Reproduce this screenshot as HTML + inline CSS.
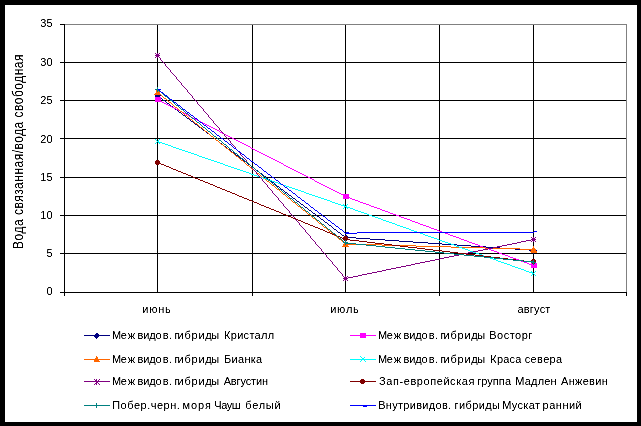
<!DOCTYPE html>
<html><head><meta charset="utf-8"><title>chart</title>
<style>
html,body{margin:0;padding:0;background:#000;}
body{width:641px;height:426px;overflow:hidden;position:relative;font-family:"Liberation Sans",sans-serif;}
svg{position:absolute;left:0;top:0;display:block}
text{font-family:"Liberation Sans",sans-serif;fill:#000}
</style></head><body>
<svg width="641" height="426" viewBox="0 0 641 426">
<rect x="0" y="0" width="641" height="426" fill="#000"/>
<rect x="5" y="5" width="632" height="417" fill="#fff"/>
<g shape-rendering="crispEdges">
<path d="M60,253.5H627M60,215.5H627M60,177.5H627M60,138.5H627M60,100.5H627M60,62.5H627M157.5,24V292M252.5,24V292M345.5,24V292M439.5,24V292M533.5,24V292" stroke="#000" stroke-width="1" fill="none"/>
<path d="M64,24.5H627M626.5,24V292" stroke="#808080" stroke-width="1" fill="none"/>
<path d="M60,24.5H64M64.5,24V296M60,292.5H627M252.5,292V296M439.5,292V296M626.5,292V296" stroke="#000" stroke-width="1" fill="none"/>
<path d="M157,95h1v1h-1zM158,96h1v1h-1zM159,97h2v1h-2zM161,98h1v1h-1zM162,99h1v1h-1zM163,100h2v1h-2zM165,101h1v1h-1zM166,102h1v1h-1zM167,103h2v1h-2zM169,104h1v1h-1zM170,105h1v1h-1zM171,106h2v1h-2zM173,107h1v1h-1zM174,108h1v1h-1zM175,109h2v1h-2zM177,110h1v1h-1zM178,111h1v1h-1zM179,112h2v1h-2zM181,113h1v1h-1zM182,114h1v1h-1zM183,115h2v1h-2zM185,116h1v1h-1zM186,117h1v1h-1zM187,118h2v1h-2zM189,119h1v1h-1zM190,120h1v1h-1zM191,121h2v1h-2zM193,122h1v1h-1zM194,123h1v1h-1zM195,124h2v1h-2zM197,125h1v1h-1zM198,126h1v1h-1zM199,127h2v1h-2zM201,128h1v1h-1zM202,129h1v1h-1zM203,130h2v1h-2zM205,131h1v1h-1zM206,132h1v1h-1zM207,133h2v1h-2zM209,134h1v1h-1zM210,135h1v1h-1zM211,136h2v1h-2zM213,137h1v1h-1zM214,138h1v1h-1zM215,139h1v1h-1zM216,140h2v1h-2zM218,141h1v1h-1zM219,142h1v1h-1zM220,143h2v1h-2zM222,144h1v1h-1zM223,145h1v1h-1zM224,146h2v1h-2zM226,147h1v1h-1zM227,148h1v1h-1zM228,149h2v1h-2zM230,150h1v1h-1zM231,151h1v1h-1zM232,152h2v1h-2zM234,153h1v1h-1zM235,154h1v1h-1zM236,155h2v1h-2zM238,156h1v1h-1zM239,157h1v1h-1zM240,158h2v1h-2zM242,159h1v1h-1zM243,160h1v1h-1zM244,161h2v1h-2zM246,162h1v1h-1zM247,163h1v1h-1zM248,164h2v1h-2zM250,165h1v1h-1zM251,166h1v1h-1zM252,167h2v1h-2zM254,168h1v1h-1zM255,169h1v1h-1zM256,170h2v1h-2zM258,171h1v1h-1zM259,172h1v1h-1zM260,173h2v1h-2zM262,174h1v1h-1zM263,175h1v1h-1zM264,176h2v1h-2zM266,177h1v1h-1zM267,178h1v1h-1zM268,179h2v1h-2zM270,180h1v1h-1zM271,181h1v1h-1zM272,182h2v1h-2zM274,183h1v1h-1zM275,184h1v1h-1zM276,185h1v1h-1zM277,186h2v1h-2zM279,187h1v1h-1zM280,188h1v1h-1zM281,189h2v1h-2zM283,190h1v1h-1zM284,191h1v1h-1zM285,192h2v1h-2zM287,193h1v1h-1zM288,194h1v1h-1zM289,195h2v1h-2zM291,196h1v1h-1zM292,197h1v1h-1zM293,198h2v1h-2zM295,199h1v1h-1zM296,200h1v1h-1zM297,201h2v1h-2zM299,202h1v1h-1zM300,203h1v1h-1zM301,204h2v1h-2zM303,205h1v1h-1zM304,206h1v1h-1zM305,207h2v1h-2zM307,208h1v1h-1zM308,209h1v1h-1zM309,210h2v1h-2zM311,211h1v1h-1zM312,212h1v1h-1zM313,213h2v1h-2zM315,214h1v1h-1zM316,215h1v1h-1zM317,216h2v1h-2zM319,217h1v1h-1zM320,218h1v1h-1zM321,219h2v1h-2zM323,220h1v1h-1zM324,221h1v1h-1zM325,222h2v1h-2zM327,223h1v1h-1zM328,224h1v1h-1zM329,225h2v1h-2zM331,226h1v1h-1zM332,227h1v1h-1zM333,228h1v1h-1zM334,229h2v1h-2zM336,230h1v1h-1zM337,231h1v1h-1zM338,232h2v1h-2zM340,233h1v1h-1zM341,234h1v1h-1zM342,235h2v1h-2zM344,236h1v1h-1zM345,237h1v1h-1zM345,237h11v1h-11zM356,238h14v1h-14zM370,239h15v1h-15zM385,240h14v1h-14zM399,241h14v1h-14zM413,242h15v1h-15zM428,243h14v1h-14zM442,244h15v1h-15zM457,245h14v1h-14zM471,246h15v1h-15zM486,247h14v1h-14zM500,248h15v1h-15zM515,249h14v1h-14zM529,250h5v1h-5z" fill="#000080"/>
<path d="M157,93h2v1h-2zM156,94h4v1h-4zM155,95h6v1h-6zM155,96h5v1h-5zM156,97h3v1h-3zM157,98h1v1h-1z" fill="#000080"/>
<path d="M345,235h2v1h-2zM344,236h4v1h-4zM343,237h6v1h-6zM343,238h5v1h-5zM344,239h3v1h-3zM345,240h1v1h-1z" fill="#000080"/>
<path d="M533,248h2v1h-2zM532,249h4v1h-4zM531,250h6v1h-6zM531,251h5v1h-5zM532,252h3v1h-3zM533,253h1v1h-1z" fill="#000080"/>
<path d="M157,99h1v1h-1zM158,100h2v1h-2zM160,101h2v1h-2zM162,102h2v1h-2zM164,103h2v1h-2zM166,104h2v1h-2zM168,105h2v1h-2zM170,106h2v1h-2zM172,107h2v1h-2zM174,108h2v1h-2zM176,109h2v1h-2zM178,110h2v1h-2zM180,111h2v1h-2zM182,112h2v1h-2zM184,113h2v1h-2zM186,114h2v1h-2zM188,115h1v1h-1zM189,116h2v1h-2zM191,117h2v1h-2zM193,118h2v1h-2zM195,119h2v1h-2zM197,120h2v1h-2zM199,121h2v1h-2zM201,122h2v1h-2zM203,123h2v1h-2zM205,124h2v1h-2zM207,125h2v1h-2zM209,126h2v1h-2zM211,127h2v1h-2zM213,128h2v1h-2zM215,129h2v1h-2zM217,130h2v1h-2zM219,131h1v1h-1zM220,132h2v1h-2zM222,133h2v1h-2zM224,134h2v1h-2zM226,135h2v1h-2zM228,136h2v1h-2zM230,137h2v1h-2zM232,138h2v1h-2zM234,139h2v1h-2zM236,140h2v1h-2zM238,141h2v1h-2zM240,142h2v1h-2zM242,143h2v1h-2zM244,144h2v1h-2zM246,145h2v1h-2zM248,146h2v1h-2zM250,147h1v1h-1zM251,148h2v1h-2zM253,149h2v1h-2zM255,150h2v1h-2zM257,151h2v1h-2zM259,152h2v1h-2zM261,153h2v1h-2zM263,154h2v1h-2zM265,155h2v1h-2zM267,156h2v1h-2zM269,157h2v1h-2zM271,158h2v1h-2zM273,159h2v1h-2zM275,160h2v1h-2zM277,161h2v1h-2zM279,162h2v1h-2zM281,163h2v1h-2zM283,164h1v1h-1zM284,165h2v1h-2zM286,166h2v1h-2zM288,167h2v1h-2zM290,168h2v1h-2zM292,169h2v1h-2zM294,170h2v1h-2zM296,171h2v1h-2zM298,172h2v1h-2zM300,173h2v1h-2zM302,174h2v1h-2zM304,175h2v1h-2zM306,176h2v1h-2zM308,177h2v1h-2zM310,178h2v1h-2zM312,179h2v1h-2zM314,180h1v1h-1zM315,181h2v1h-2zM317,182h2v1h-2zM319,183h2v1h-2zM321,184h2v1h-2zM323,185h2v1h-2zM325,186h2v1h-2zM327,187h2v1h-2zM329,188h2v1h-2zM331,189h2v1h-2zM333,190h2v1h-2zM335,191h2v1h-2zM337,192h2v1h-2zM339,193h2v1h-2zM341,194h2v1h-2zM343,195h2v1h-2zM345,196h1v1h-1zM345,196h2v1h-2zM347,197h3v1h-3zM350,198h2v1h-2zM352,199h3v1h-3zM355,200h3v1h-3zM358,201h2v1h-2zM360,202h3v1h-3zM363,203h3v1h-3zM366,204h3v1h-3zM369,205h2v1h-2zM371,206h3v1h-3zM374,207h3v1h-3zM377,208h3v1h-3zM380,209h2v1h-2zM382,210h3v1h-3zM385,211h3v1h-3zM388,212h2v1h-2zM390,213h3v1h-3zM393,214h3v1h-3zM396,215h3v1h-3zM399,216h2v1h-2zM401,217h3v1h-3zM404,218h3v1h-3zM407,219h3v1h-3zM410,220h2v1h-2zM412,221h3v1h-3zM415,222h3v1h-3zM418,223h2v1h-2zM420,224h3v1h-3zM423,225h3v1h-3zM426,226h3v1h-3zM429,227h2v1h-2zM431,228h3v1h-3zM434,229h3v1h-3zM437,230h2v1h-2zM439,231h3v1h-3zM442,232h3v1h-3zM445,233h3v1h-3zM448,234h2v1h-2zM450,235h3v1h-3zM453,236h3v1h-3zM456,237h3v1h-3zM459,238h2v1h-2zM461,239h3v1h-3zM464,240h3v1h-3zM467,241h2v1h-2zM469,242h3v1h-3zM472,243h3v1h-3zM475,244h3v1h-3zM478,245h2v1h-2zM480,246h3v1h-3zM483,247h3v1h-3zM486,248h3v1h-3zM489,249h2v1h-2zM491,250h3v1h-3zM494,251h3v1h-3zM497,252h2v1h-2zM499,253h3v1h-3zM502,254h3v1h-3zM505,255h3v1h-3zM508,256h2v1h-2zM510,257h3v1h-3zM513,258h3v1h-3zM516,259h3v1h-3zM519,260h2v1h-2zM521,261h3v1h-3zM524,262h3v1h-3zM527,263h2v1h-2zM529,264h3v1h-3zM532,265h2v1h-2z" fill="#FF00FF"/>
<path d="M155,97h6v1h-6zM155,98h6v1h-6zM155,99h6v1h-6zM155,100h6v1h-6zM155,101h6v1h-6z" fill="#FF00FF"/>
<path d="M343,194h6v1h-6zM343,195h6v1h-6zM343,196h6v1h-6zM343,197h6v1h-6zM343,198h6v1h-6z" fill="#FF00FF"/>
<path d="M531,263h6v1h-6zM531,264h6v1h-6zM531,265h6v1h-6zM531,266h6v1h-6zM531,267h6v1h-6z" fill="#FF00FF"/>
<path d="M157,92h1v1h-1zM158,93h1v1h-1zM159,94h2v1h-2zM161,95h1v1h-1zM162,96h1v1h-1zM163,97h1v1h-1zM164,98h2v1h-2zM166,99h1v1h-1zM167,100h1v1h-1zM168,101h1v1h-1zM169,102h2v1h-2zM171,103h1v1h-1zM172,104h1v1h-1zM173,105h1v1h-1zM174,106h1v1h-1zM175,107h2v1h-2zM177,108h1v1h-1zM178,109h1v1h-1zM179,110h1v1h-1zM180,111h2v1h-2zM182,112h1v1h-1zM183,113h1v1h-1zM184,114h1v1h-1zM185,115h2v1h-2zM187,116h1v1h-1zM188,117h1v1h-1zM189,118h1v1h-1zM190,119h2v1h-2zM192,120h1v1h-1zM193,121h1v1h-1zM194,122h1v1h-1zM195,123h2v1h-2zM197,124h1v1h-1zM198,125h1v1h-1zM199,126h1v1h-1zM200,127h2v1h-2zM202,128h1v1h-1zM203,129h1v1h-1zM204,130h1v1h-1zM205,131h2v1h-2zM207,132h1v1h-1zM208,133h1v1h-1zM209,134h1v1h-1zM210,135h1v1h-1zM211,136h2v1h-2zM213,137h1v1h-1zM214,138h1v1h-1zM215,139h1v1h-1zM216,140h2v1h-2zM218,141h1v1h-1zM219,142h1v1h-1zM220,143h1v1h-1zM221,144h2v1h-2zM223,145h1v1h-1zM224,146h1v1h-1zM225,147h1v1h-1zM226,148h2v1h-2zM228,149h1v1h-1zM229,150h1v1h-1zM230,151h1v1h-1zM231,152h2v1h-2zM233,153h1v1h-1zM234,154h1v1h-1zM235,155h1v1h-1zM236,156h2v1h-2zM238,157h1v1h-1zM239,158h1v1h-1zM240,159h1v1h-1zM241,160h2v1h-2zM243,161h1v1h-1zM244,162h1v1h-1zM245,163h1v1h-1zM246,164h1v1h-1zM247,165h2v1h-2zM249,166h1v1h-1zM250,167h1v1h-1zM251,168h1v1h-1zM252,169h2v1h-2zM254,170h1v1h-1zM255,171h1v1h-1zM256,172h1v1h-1zM257,173h2v1h-2zM259,174h1v1h-1zM260,175h1v1h-1zM261,176h1v1h-1zM262,177h2v1h-2zM264,178h1v1h-1zM265,179h1v1h-1zM266,180h1v1h-1zM267,181h2v1h-2zM269,182h1v1h-1zM270,183h1v1h-1zM271,184h1v1h-1zM272,185h2v1h-2zM274,186h1v1h-1zM275,187h1v1h-1zM276,188h1v1h-1zM277,189h2v1h-2zM279,190h1v1h-1zM280,191h1v1h-1zM281,192h1v1h-1zM282,193h1v1h-1zM283,194h2v1h-2zM285,195h1v1h-1zM286,196h1v1h-1zM287,197h1v1h-1zM288,198h2v1h-2zM290,199h1v1h-1zM291,200h1v1h-1zM292,201h1v1h-1zM293,202h2v1h-2zM295,203h1v1h-1zM296,204h1v1h-1zM297,205h1v1h-1zM298,206h2v1h-2zM300,207h1v1h-1zM301,208h1v1h-1zM302,209h1v1h-1zM303,210h2v1h-2zM305,211h1v1h-1zM306,212h1v1h-1zM307,213h1v1h-1zM308,214h2v1h-2zM310,215h1v1h-1zM311,216h1v1h-1zM312,217h1v1h-1zM313,218h2v1h-2zM315,219h1v1h-1zM316,220h1v1h-1zM317,221h1v1h-1zM318,222h1v1h-1zM319,223h2v1h-2zM321,224h1v1h-1zM322,225h1v1h-1zM323,226h1v1h-1zM324,227h2v1h-2zM326,228h1v1h-1zM327,229h1v1h-1zM328,230h1v1h-1zM329,231h2v1h-2zM331,232h1v1h-1zM332,233h1v1h-1zM333,234h1v1h-1zM334,235h2v1h-2zM336,236h1v1h-1zM337,237h1v1h-1zM338,238h1v1h-1zM339,239h2v1h-2zM341,240h1v1h-1zM342,241h1v1h-1zM343,242h1v1h-1zM344,243h2v1h-2zM345,243h2v1h-2zM347,244h35v1h-35zM382,245h34v1h-34zM416,246h35v1h-35zM451,247h34v1h-34zM485,248h35v1h-35zM520,249h14v1h-14z" fill="#FF6600"/>
<path d="M157,89h1v1h-1zM156,90h3v1h-3zM156,91h3v1h-3zM156,92h4v1h-4zM155,93h5v1h-5zM154,94h7v1h-7z" fill="#FF6600"/>
<path d="M345,241h1v1h-1zM345,242h1v1h-1zM344,243h3v1h-3zM343,244h5v1h-5zM343,245h5v1h-5zM342,246h7v1h-7z" fill="#FF6600"/>
<path d="M533,246h1v1h-1zM533,247h1v1h-1zM532,248h3v1h-3zM531,249h5v1h-5zM531,250h5v1h-5zM530,251h7v1h-7zM531,252h6v1h-6z" fill="#FF6600"/>
<path d="M157,141h2v1h-2zM159,142h3v1h-3zM162,143h3v1h-3zM165,144h3v1h-3zM168,145h3v1h-3zM171,146h2v1h-2zM173,147h3v1h-3zM176,148h3v1h-3zM179,149h3v1h-3zM182,150h3v1h-3zM185,151h3v1h-3zM188,152h3v1h-3zM191,153h3v1h-3zM194,154h3v1h-3zM197,155h2v1h-2zM199,156h3v1h-3zM202,157h3v1h-3zM205,158h3v1h-3zM208,159h3v1h-3zM211,160h3v1h-3zM214,161h3v1h-3zM217,162h3v1h-3zM220,163h3v1h-3zM223,164h2v1h-2zM225,165h3v1h-3zM228,166h3v1h-3zM231,167h3v1h-3zM234,168h3v1h-3zM237,169h3v1h-3zM240,170h3v1h-3zM243,171h3v1h-3zM246,172h3v1h-3zM249,173h2v1h-2zM251,174h3v1h-3zM254,175h3v1h-3zM257,176h3v1h-3zM260,177h3v1h-3zM263,178h3v1h-3zM266,179h3v1h-3zM269,180h3v1h-3zM272,181h3v1h-3zM275,182h3v1h-3zM278,183h2v1h-2zM280,184h3v1h-3zM283,185h3v1h-3zM286,186h3v1h-3zM289,187h3v1h-3zM292,188h3v1h-3zM295,189h3v1h-3zM298,190h3v1h-3zM301,191h3v1h-3zM304,192h2v1h-2zM306,193h3v1h-3zM309,194h3v1h-3zM312,195h3v1h-3zM315,196h3v1h-3zM318,197h3v1h-3zM321,198h3v1h-3zM324,199h3v1h-3zM327,200h3v1h-3zM330,201h2v1h-2zM332,202h3v1h-3zM335,203h3v1h-3zM338,204h3v1h-3zM341,205h3v1h-3zM344,206h2v1h-2zM345,206h2v1h-2zM347,207h3v1h-3zM350,208h3v1h-3zM353,209h2v1h-2zM355,210h3v1h-3zM358,211h3v1h-3zM361,212h3v1h-3zM364,213h3v1h-3zM367,214h2v1h-2zM369,215h3v1h-3zM372,216h3v1h-3zM375,217h3v1h-3zM378,218h3v1h-3zM381,219h2v1h-2zM383,220h3v1h-3zM386,221h3v1h-3zM389,222h3v1h-3zM392,223h3v1h-3zM395,224h2v1h-2zM397,225h3v1h-3zM400,226h3v1h-3zM403,227h3v1h-3zM406,228h3v1h-3zM409,229h2v1h-2zM411,230h3v1h-3zM414,231h3v1h-3zM417,232h3v1h-3zM420,233h3v1h-3zM423,234h2v1h-2zM425,235h3v1h-3zM428,236h3v1h-3zM431,237h3v1h-3zM434,238h3v1h-3zM437,239h2v1h-2zM439,240h3v1h-3zM442,241h3v1h-3zM445,242h3v1h-3zM448,243h3v1h-3zM451,244h3v1h-3zM454,245h2v1h-2zM456,246h3v1h-3zM459,247h3v1h-3zM462,248h3v1h-3zM465,249h3v1h-3zM468,250h2v1h-2zM470,251h3v1h-3zM473,252h3v1h-3zM476,253h3v1h-3zM479,254h3v1h-3zM482,255h2v1h-2zM484,256h3v1h-3zM487,257h3v1h-3zM490,258h3v1h-3zM493,259h3v1h-3zM496,260h2v1h-2zM498,261h3v1h-3zM501,262h3v1h-3zM504,263h3v1h-3zM507,264h3v1h-3zM510,265h2v1h-2zM512,266h3v1h-3zM515,267h3v1h-3zM518,268h3v1h-3zM521,269h3v1h-3zM524,270h2v1h-2zM526,271h3v1h-3zM529,272h3v1h-3zM532,273h2v1h-2z" fill="#00FFFF"/>
<path d="M155,139h1v1h-1zM159,139h1v1h-1zM156,140h1v1h-1zM158,140h1v1h-1zM157,141h1v1h-1zM156,142h1v1h-1zM158,142h1v1h-1zM155,143h1v1h-1zM159,143h1v1h-1z" fill="#00FFFF"/>
<path d="M343,204h1v1h-1zM347,204h1v1h-1zM344,205h1v1h-1zM346,205h1v1h-1zM345,206h1v1h-1zM344,207h1v1h-1zM346,207h1v1h-1zM343,208h1v1h-1zM347,208h1v1h-1z" fill="#00FFFF"/>
<path d="M531,271h1v1h-1zM535,271h1v1h-1zM532,272h1v1h-1zM534,272h1v1h-1zM533,273h1v1h-1zM532,274h1v1h-1zM534,274h1v1h-1zM531,275h1v1h-1zM535,275h1v1h-1z" fill="#00FFFF"/>
<path d="M157,55h1v1h-1zM158,56h1v1h-1zM159,57h1v1h-1zM160,58h1v2h-1zM161,60h1v1h-1zM162,61h1v1h-1zM163,62h1v1h-1zM164,63h1v1h-1zM165,64h1v2h-1zM166,66h1v1h-1zM167,67h1v1h-1zM168,68h1v1h-1zM169,69h1v1h-1zM170,70h1v2h-1zM171,72h1v1h-1zM172,73h1v1h-1zM173,74h1v1h-1zM174,75h1v1h-1zM175,76h1v1h-1zM176,77h1v2h-1zM177,79h1v1h-1zM178,80h1v1h-1zM179,81h1v1h-1zM180,82h1v1h-1zM181,83h1v2h-1zM182,85h1v1h-1zM183,86h1v1h-1zM184,87h1v1h-1zM185,88h1v1h-1zM186,89h1v1h-1zM187,90h1v2h-1zM188,92h1v1h-1zM189,93h1v1h-1zM190,94h1v1h-1zM191,95h1v1h-1zM192,96h1v2h-1zM193,98h1v1h-1zM194,99h1v1h-1zM195,100h1v1h-1zM196,101h1v1h-1zM197,102h1v2h-1zM198,104h1v1h-1zM199,105h1v1h-1zM200,106h1v1h-1zM201,107h1v1h-1zM202,108h1v1h-1zM203,109h1v2h-1zM204,111h1v1h-1zM205,112h1v1h-1zM206,113h1v1h-1zM207,114h1v1h-1zM208,115h1v2h-1zM209,117h1v1h-1zM210,118h1v1h-1zM211,119h1v1h-1zM212,120h1v1h-1zM213,121h1v2h-1zM214,123h1v1h-1zM215,124h1v1h-1zM216,125h1v1h-1zM217,126h1v1h-1zM218,127h1v1h-1zM219,128h1v2h-1zM220,130h1v1h-1zM221,131h1v1h-1zM222,132h1v1h-1zM223,133h1v1h-1zM224,134h1v2h-1zM225,136h1v1h-1zM226,137h1v1h-1zM227,138h1v1h-1zM228,139h1v1h-1zM229,140h1v1h-1zM230,141h1v2h-1zM231,143h1v1h-1zM232,144h1v1h-1zM233,145h1v1h-1zM234,146h1v1h-1zM235,147h1v2h-1zM236,149h1v1h-1zM237,150h1v1h-1zM238,151h1v1h-1zM239,152h1v1h-1zM240,153h1v2h-1zM241,155h1v1h-1zM242,156h1v1h-1zM243,157h1v1h-1zM244,158h1v1h-1zM245,159h1v1h-1zM246,160h1v2h-1zM247,162h1v1h-1zM248,163h1v1h-1zM249,164h1v1h-1zM250,165h1v1h-1zM251,166h1v2h-1zM252,168h1v1h-1zM253,169h1v1h-1zM254,170h1v1h-1zM255,171h1v1h-1zM256,172h1v2h-1zM257,174h1v1h-1zM258,175h1v1h-1zM259,176h1v1h-1zM260,177h1v1h-1zM261,178h1v1h-1zM262,179h1v2h-1zM263,181h1v1h-1zM264,182h1v1h-1zM265,183h1v1h-1zM266,184h1v1h-1zM267,185h1v2h-1zM268,187h1v1h-1zM269,188h1v1h-1zM270,189h1v1h-1zM271,190h1v1h-1zM272,191h1v2h-1zM273,193h1v1h-1zM274,194h1v1h-1zM275,195h1v1h-1zM276,196h1v1h-1zM277,197h1v1h-1zM278,198h1v2h-1zM279,200h1v1h-1zM280,201h1v1h-1zM281,202h1v1h-1zM282,203h1v1h-1zM283,204h1v2h-1zM284,206h1v1h-1zM285,207h1v1h-1zM286,208h1v1h-1zM287,209h1v1h-1zM288,210h1v1h-1zM289,211h1v2h-1zM290,213h1v1h-1zM291,214h1v1h-1zM292,215h1v1h-1zM293,216h1v1h-1zM294,217h1v2h-1zM295,219h1v1h-1zM296,220h1v1h-1zM297,221h1v1h-1zM298,222h1v1h-1zM299,223h1v2h-1zM300,225h1v1h-1zM301,226h1v1h-1zM302,227h1v1h-1zM303,228h1v1h-1zM304,229h1v1h-1zM305,230h1v2h-1zM306,232h1v1h-1zM307,233h1v1h-1zM308,234h1v1h-1zM309,235h1v1h-1zM310,236h1v2h-1zM311,238h1v1h-1zM312,239h1v1h-1zM313,240h1v1h-1zM314,241h1v1h-1zM315,242h1v2h-1zM316,244h1v1h-1zM317,245h1v1h-1zM318,246h1v1h-1zM319,247h1v1h-1zM320,248h1v1h-1zM321,249h1v2h-1zM322,251h1v1h-1zM323,252h1v1h-1zM324,253h1v1h-1zM325,254h1v1h-1zM326,255h1v2h-1zM327,257h1v1h-1zM328,258h1v1h-1zM329,259h1v1h-1zM330,260h1v1h-1zM331,261h1v1h-1zM332,262h1v2h-1zM333,264h1v1h-1zM334,265h1v1h-1zM335,266h1v1h-1zM336,267h1v1h-1zM337,268h1v2h-1zM338,270h1v1h-1zM339,271h1v1h-1zM340,272h1v1h-1zM341,273h1v1h-1zM342,274h1v2h-1zM343,276h1v1h-1zM344,277h1v1h-1zM345,278h1v1h-1zM345,278h3v1h-3zM348,277h5v1h-5zM353,276h5v1h-5zM358,275h4v1h-4zM362,274h5v1h-5zM367,273h5v1h-5zM372,272h5v1h-5zM377,271h5v1h-5zM382,270h4v1h-4zM386,269h5v1h-5zM391,268h5v1h-5zM396,267h5v1h-5zM401,266h5v1h-5zM406,265h5v1h-5zM411,264h4v1h-4zM415,263h5v1h-5zM420,262h5v1h-5zM425,261h5v1h-5zM430,260h5v1h-5zM435,259h5v1h-5zM440,258h4v1h-4zM444,257h5v1h-5zM449,256h5v1h-5zM454,255h5v1h-5zM459,254h5v1h-5zM464,253h4v1h-4zM468,252h5v1h-5zM473,251h5v1h-5zM478,250h5v1h-5zM483,249h5v1h-5zM488,248h5v1h-5zM493,247h4v1h-4zM497,246h5v1h-5zM502,245h5v1h-5zM507,244h5v1h-5zM512,243h5v1h-5zM517,242h4v1h-4zM521,241h5v1h-5zM526,240h5v1h-5zM531,239h3v1h-3z" fill="#800080"/>
<path d="M155,53h1v1h-1zM157,53h1v1h-1zM159,53h1v1h-1zM156,54h3v1h-3zM155,55h5v1h-5zM156,56h3v1h-3zM155,57h1v1h-1zM157,57h1v1h-1zM159,57h1v1h-1z" fill="#800080"/>
<path d="M343,276h1v1h-1zM345,276h1v1h-1zM347,276h1v1h-1zM344,277h3v1h-3zM343,278h5v1h-5zM344,279h3v1h-3zM343,280h1v1h-1zM345,280h1v1h-1zM347,280h1v1h-1z" fill="#800080"/>
<path d="M531,237h1v1h-1zM533,237h1v1h-1zM535,237h1v1h-1zM532,238h3v1h-3zM531,239h5v1h-5zM532,240h3v1h-3zM531,241h1v1h-1zM533,241h1v1h-1zM535,241h1v1h-1z" fill="#800080"/>
<path d="M157,162h2v1h-2zM159,163h2v1h-2zM161,164h3v1h-3zM164,165h2v1h-2zM166,166h3v1h-3zM169,167h2v1h-2zM171,168h2v1h-2zM173,169h3v1h-3zM176,170h2v1h-2zM178,171h3v1h-3zM181,172h2v1h-2zM183,173h3v1h-3zM186,174h2v1h-2zM188,175h3v1h-3zM191,176h2v1h-2zM193,177h2v1h-2zM195,178h3v1h-3zM198,179h2v1h-2zM200,180h3v1h-3zM203,181h2v1h-2zM205,182h3v1h-3zM208,183h2v1h-2zM210,184h3v1h-3zM213,185h2v1h-2zM215,186h2v1h-2zM217,187h3v1h-3zM220,188h2v1h-2zM222,189h3v1h-3zM225,190h2v1h-2zM227,191h3v1h-3zM230,192h2v1h-2zM232,193h3v1h-3zM235,194h2v1h-2zM237,195h2v1h-2zM239,196h3v1h-3zM242,197h2v1h-2zM244,198h3v1h-3zM247,199h2v1h-2zM249,200h3v1h-3zM252,201h2v1h-2zM254,202h3v1h-3zM257,203h2v1h-2zM259,204h2v1h-2zM261,205h3v1h-3zM264,206h2v1h-2zM266,207h3v1h-3zM269,208h2v1h-2zM271,209h3v1h-3zM274,210h2v1h-2zM276,211h3v1h-3zM279,212h2v1h-2zM281,213h2v1h-2zM283,214h3v1h-3zM286,215h2v1h-2zM288,216h3v1h-3zM291,217h2v1h-2zM293,218h3v1h-3zM296,219h2v1h-2zM298,220h3v1h-3zM301,221h2v1h-2zM303,222h2v1h-2zM305,223h3v1h-3zM308,224h2v1h-2zM310,225h3v1h-3zM313,226h2v1h-2zM315,227h3v1h-3zM318,228h2v1h-2zM320,229h3v1h-3zM323,230h2v1h-2zM325,231h2v1h-2zM327,232h3v1h-3zM330,233h2v1h-2zM332,234h3v1h-3zM335,235h2v1h-2zM337,236h3v1h-3zM340,237h2v1h-2zM342,238h3v1h-3zM345,239h1v1h-1zM345,239h5v1h-5zM350,240h9v1h-9zM359,241h8v1h-8zM367,242h8v1h-8zM375,243h9v1h-9zM384,244h8v1h-8zM392,245h8v1h-8zM400,246h8v1h-8zM408,247h9v1h-9zM417,248h8v1h-8zM425,249h8v1h-8zM433,250h9v1h-9zM442,251h8v1h-8zM450,252h8v1h-8zM458,253h8v1h-8zM466,254h9v1h-9zM475,255h8v1h-8zM483,256h8v1h-8zM491,257h9v1h-9zM500,258h8v1h-8zM508,259h8v1h-8zM516,260h8v1h-8zM524,261h9v1h-9zM533,262h1v1h-1z" fill="#800000"/>
<path d="M156,160h3v1h-3zM155,161h5v1h-5zM155,162h5v1h-5zM155,163h5v1h-5zM156,164h3v1h-3z" fill="#800000"/>
<path d="M344,236h3v1h-3zM343,237h5v1h-5zM343,238h5v1h-5zM343,239h5v1h-5zM344,240h3v1h-3z" fill="#800000"/>
<path d="M532,259h3v1h-3zM531,260h5v1h-5zM531,261h5v1h-5zM531,262h5v1h-5zM532,263h3v1h-3z" fill="#800000"/>
<path d="M157,89h1v1h-1zM158,90h1v1h-1zM159,91h2v1h-2zM161,92h1v1h-1zM162,93h1v1h-1zM163,94h1v1h-1zM164,95h1v1h-1zM165,96h2v1h-2zM167,97h1v1h-1zM168,98h1v1h-1zM169,99h1v1h-1zM170,100h2v1h-2zM172,101h1v1h-1zM173,102h1v1h-1zM174,103h1v1h-1zM175,104h1v1h-1zM176,105h2v1h-2zM178,106h1v1h-1zM179,107h1v1h-1zM180,108h1v1h-1zM181,109h2v1h-2zM183,110h1v1h-1zM184,111h1v1h-1zM185,112h1v1h-1zM186,113h2v1h-2zM188,114h1v1h-1zM189,115h1v1h-1zM190,116h1v1h-1zM191,117h1v1h-1zM192,118h2v1h-2zM194,119h1v1h-1zM195,120h1v1h-1zM196,121h1v1h-1zM197,122h2v1h-2zM199,123h1v1h-1zM200,124h1v1h-1zM201,125h1v1h-1zM202,126h1v1h-1zM203,127h2v1h-2zM205,128h1v1h-1zM206,129h1v1h-1zM207,130h1v1h-1zM208,131h2v1h-2zM210,132h1v1h-1zM211,133h1v1h-1zM212,134h1v1h-1zM213,135h1v1h-1zM214,136h2v1h-2zM216,137h1v1h-1zM217,138h1v1h-1zM218,139h1v1h-1zM219,140h2v1h-2zM221,141h1v1h-1zM222,142h1v1h-1zM223,143h1v1h-1zM224,144h2v1h-2zM226,145h1v1h-1zM227,146h1v1h-1zM228,147h1v1h-1zM229,148h1v1h-1zM230,149h2v1h-2zM232,150h1v1h-1zM233,151h1v1h-1zM234,152h1v1h-1zM235,153h2v1h-2zM237,154h1v1h-1zM238,155h1v1h-1zM239,156h1v1h-1zM240,157h1v1h-1zM241,158h2v1h-2zM243,159h1v1h-1zM244,160h1v1h-1zM245,161h1v1h-1zM246,162h2v1h-2zM248,163h1v1h-1zM249,164h1v1h-1zM250,165h1v1h-1zM251,166h1v1h-1zM252,167h2v1h-2zM254,168h1v1h-1zM255,169h1v1h-1zM256,170h1v1h-1zM257,171h2v1h-2zM259,172h1v1h-1zM260,173h1v1h-1zM261,174h1v1h-1zM262,175h1v1h-1zM263,176h2v1h-2zM265,177h1v1h-1zM266,178h1v1h-1zM267,179h1v1h-1zM268,180h2v1h-2zM270,181h1v1h-1zM271,182h1v1h-1zM272,183h1v1h-1zM273,184h2v1h-2zM275,185h1v1h-1zM276,186h1v1h-1zM277,187h1v1h-1zM278,188h1v1h-1zM279,189h2v1h-2zM281,190h1v1h-1zM282,191h1v1h-1zM283,192h1v1h-1zM284,193h2v1h-2zM286,194h1v1h-1zM287,195h1v1h-1zM288,196h1v1h-1zM289,197h1v1h-1zM290,198h2v1h-2zM292,199h1v1h-1zM293,200h1v1h-1zM294,201h1v1h-1zM295,202h2v1h-2zM297,203h1v1h-1zM298,204h1v1h-1zM299,205h1v1h-1zM300,206h1v1h-1zM301,207h2v1h-2zM303,208h1v1h-1zM304,209h1v1h-1zM305,210h1v1h-1zM306,211h2v1h-2zM308,212h1v1h-1zM309,213h1v1h-1zM310,214h1v1h-1zM311,215h1v1h-1zM312,216h2v1h-2zM314,217h1v1h-1zM315,218h1v1h-1zM316,219h1v1h-1zM317,220h2v1h-2zM319,221h1v1h-1zM320,222h1v1h-1zM321,223h1v1h-1zM322,224h2v1h-2zM324,225h1v1h-1zM325,226h1v1h-1zM326,227h1v1h-1zM327,228h1v1h-1zM328,229h2v1h-2zM330,230h1v1h-1zM331,231h1v1h-1zM332,232h1v1h-1zM333,233h2v1h-2zM335,234h1v1h-1zM336,235h1v1h-1zM337,236h1v1h-1zM338,237h1v1h-1zM339,238h2v1h-2zM341,239h1v1h-1zM342,240h1v1h-1zM343,241h1v1h-1zM344,242h2v1h-2zM345,242h1v1h-1zM346,243h10v1h-10zM356,244h10v1h-10zM366,245h10v1h-10zM376,246h9v1h-9zM385,247h10v1h-10zM395,248h10v1h-10zM405,249h10v1h-10zM415,250h10v1h-10zM425,251h10v1h-10zM435,252h9v1h-9zM444,253h10v1h-10zM454,254h10v1h-10zM464,255h10v1h-10zM474,256h10v1h-10zM484,257h10v1h-10zM494,258h9v1h-9zM503,259h10v1h-10zM513,260h10v1h-10zM523,261h10v1h-10zM533,262h1v1h-1z" fill="#008080"/>
<path d="M155,89h5v1h-5zM157,87h1v1h-1zM157,88h1v1h-1zM157,90h1v1h-1zM157,91h1v1h-1z" fill="#008080"/>
<path d="M343,242h5v1h-5zM345,240h1v1h-1zM345,241h1v1h-1zM345,243h1v1h-1zM345,244h1v1h-1z" fill="#008080"/>
<path d="M531,262h5v1h-5zM533,260h1v1h-1zM533,261h1v1h-1zM533,263h1v1h-1zM533,264h1v1h-1z" fill="#008080"/>
<path d="M157,89h2v1h-2zM159,90h1v1h-1zM160,91h1v1h-1zM161,92h2v1h-2zM163,93h1v1h-1zM164,94h1v1h-1zM165,95h2v1h-2zM167,96h1v1h-1zM168,97h1v1h-1zM169,98h1v1h-1zM170,99h2v1h-2zM172,100h1v1h-1zM173,101h1v1h-1zM174,102h2v1h-2zM176,103h1v1h-1zM177,104h1v1h-1zM178,105h2v1h-2zM180,106h1v1h-1zM181,107h1v1h-1zM182,108h1v1h-1zM183,109h2v1h-2zM185,110h1v1h-1zM186,111h1v1h-1zM187,112h2v1h-2zM189,113h1v1h-1zM190,114h1v1h-1zM191,115h2v1h-2zM193,116h1v1h-1zM194,117h1v1h-1zM195,118h2v1h-2zM197,119h1v1h-1zM198,120h1v1h-1zM199,121h1v1h-1zM200,122h2v1h-2zM202,123h1v1h-1zM203,124h1v1h-1zM204,125h2v1h-2zM206,126h1v1h-1zM207,127h1v1h-1zM208,128h2v1h-2zM210,129h1v1h-1zM211,130h1v1h-1zM212,131h2v1h-2zM214,132h1v1h-1zM215,133h1v1h-1zM216,134h1v1h-1zM217,135h2v1h-2zM219,136h1v1h-1zM220,137h1v1h-1zM221,138h2v1h-2zM223,139h1v1h-1zM224,140h1v1h-1zM225,141h2v1h-2zM227,142h1v1h-1zM228,143h1v1h-1zM229,144h2v1h-2zM231,145h1v1h-1zM232,146h1v1h-1zM233,147h1v1h-1zM234,148h2v1h-2zM236,149h1v1h-1zM237,150h1v1h-1zM238,151h2v1h-2zM240,152h1v1h-1zM241,153h1v1h-1zM242,154h2v1h-2zM244,155h1v1h-1zM245,156h1v1h-1zM246,157h1v1h-1zM247,158h2v1h-2zM249,159h1v1h-1zM250,160h1v1h-1zM251,161h2v1h-2zM253,162h1v1h-1zM254,163h1v1h-1zM255,164h2v1h-2zM257,165h1v1h-1zM258,166h1v1h-1zM259,167h2v1h-2zM261,168h1v1h-1zM262,169h1v1h-1zM263,170h1v1h-1zM264,171h2v1h-2zM266,172h1v1h-1zM267,173h1v1h-1zM268,174h2v1h-2zM270,175h1v1h-1zM271,176h1v1h-1zM272,177h2v1h-2zM274,178h1v1h-1zM275,179h1v1h-1zM276,180h2v1h-2zM278,181h1v1h-1zM279,182h1v1h-1zM280,183h1v1h-1zM281,184h2v1h-2zM283,185h1v1h-1zM284,186h1v1h-1zM285,187h2v1h-2zM287,188h1v1h-1zM288,189h1v1h-1zM289,190h2v1h-2zM291,191h1v1h-1zM292,192h1v1h-1zM293,193h2v1h-2zM295,194h1v1h-1zM296,195h1v1h-1zM297,196h1v1h-1zM298,197h2v1h-2zM300,198h1v1h-1zM301,199h1v1h-1zM302,200h2v1h-2zM304,201h1v1h-1zM305,202h1v1h-1zM306,203h2v1h-2zM308,204h1v1h-1zM309,205h1v1h-1zM310,206h1v1h-1zM311,207h2v1h-2zM313,208h1v1h-1zM314,209h1v1h-1zM315,210h2v1h-2zM317,211h1v1h-1zM318,212h1v1h-1zM319,213h2v1h-2zM321,214h1v1h-1zM322,215h1v1h-1zM323,216h2v1h-2zM325,217h1v1h-1zM326,218h1v1h-1zM327,219h1v1h-1zM328,220h2v1h-2zM330,221h1v1h-1zM331,222h1v1h-1zM332,223h2v1h-2zM334,224h1v1h-1zM335,225h1v1h-1zM336,226h2v1h-2zM338,227h1v1h-1zM339,228h1v1h-1zM340,229h2v1h-2zM342,230h1v1h-1zM343,231h1v1h-1zM344,232h1v1h-1zM345,233h1v1h-1zM345,233h12v1h-12zM357,232h177v1h-177z" fill="#0000FF"/>
<path d="M158,89h3v1h-3z" fill="#0000FF"/>
<path d="M346,232h3v1h-3z" fill="#0000FF"/>
<path d="M534,231h3v1h-3z" fill="#0000FF"/>
<path d="M157,87h1v5h-1z" fill="#008080"/>
<path d="M84,335.5H110" stroke="#000080" stroke-width="1" fill="none"/>
<path d="M96,333h2v1h-2zM95,334h4v1h-4zM94,335h6v1h-6zM94,336h5v1h-5zM95,337h3v1h-3zM96,338h1v1h-1z" fill="#000080"/>
<path d="M350,335.5H376" stroke="#FF00FF" stroke-width="1" fill="none"/>
<path d="M360,333h6v1h-6zM360,334h6v1h-6zM360,335h6v1h-6zM360,336h6v1h-6zM360,337h6v1h-6z" fill="#FF00FF"/>
<path d="M84,359.5H110" stroke="#FF6600" stroke-width="1" fill="none"/>
<path d="M96,356h1v1h-1zM96,357h2v1h-2zM95,358h3v1h-3zM95,359h4v1h-4zM94,360h5v1h-5zM94,361h6v1h-6z" fill="#FF6600"/>
<path d="M350,359.5H376" stroke="#00FFFF" stroke-width="1" fill="none"/>
<path d="M360,356h1v1h-1zM361,357h1v1h-1zM364,357h1v1h-1zM362,358h2v1h-2zM362,359h2v1h-2zM361,360h1v1h-1zM364,360h1v1h-1zM360,361h1v1h-1zM365,361h1v1h-1z" fill="#00FFFF"/>
<path d="M84,381.5H110" stroke="#800080" stroke-width="1" fill="none"/>
<path d="M94,379h1v1h-1zM96,379h1v1h-1zM99,379h1v1h-1zM95,380h2v1h-2zM98,380h1v1h-1zM96,381h2v1h-2zM96,382h2v1h-2zM95,383h2v1h-2zM98,383h1v1h-1zM94,384h1v1h-1zM96,384h1v1h-1zM99,384h1v1h-1z" fill="#800080"/>
<path d="M350,381.5H376" stroke="#800000" stroke-width="1" fill="none"/>
<path d="M361,379h3v1h-3zM360,380h5v1h-5zM360,381h5v1h-5zM360,382h5v1h-5zM361,383h3v1h-3z" fill="#800000"/>
<path d="M84,405.5H110" stroke="#008080" stroke-width="1" fill="none"/>
<path d="M94,405h5v1h-5zM96,403h1v1h-1zM96,404h1v1h-1zM96,406h1v1h-1zM96,407h1v1h-1z" fill="#008080"/>
<path d="M350,405.5H376" stroke="#0000FF" stroke-width="1" fill="none"/>
<path d="M363,406h4v1h-4z" fill="#0000FF"/>
</g>
<defs><filter id="t" x="0" y="0" width="641" height="426" filterUnits="userSpaceOnUse" color-interpolation-filters="sRGB"><feComponentTransfer><feFuncA type="linear" slope="1.6" intercept="-0.25"/></feComponentTransfer></filter></defs><g filter="url(#t)">
<text x="52.6" y="295" font-size="11" text-anchor="end">0</text>
<text x="52.6" y="257" font-size="11" text-anchor="end">5</text>
<text x="52.6" y="219" font-size="11" text-anchor="end">10</text>
<text x="52.6" y="181" font-size="11" text-anchor="end">15</text>
<text x="52.6" y="142.5" font-size="11" text-anchor="end">20</text>
<text x="52.6" y="104" font-size="11" text-anchor="end">25</text>
<text x="52.6" y="66" font-size="11" text-anchor="end">30</text>
<text x="52.6" y="27" font-size="11" text-anchor="end">35</text>
<text x="142.2" y="313" font-size="11" textLength="28.6" lengthAdjust="spacing">июнь</text>
<text x="330.2" y="313" font-size="11" textLength="28.6" lengthAdjust="spacing">июль</text>
<text x="517.4" y="313" font-size="11" textLength="33.0" lengthAdjust="spacing">август</text>
<text y="339" font-size="11"><tspan x="112.00 120.68 127.86 137.44 143.24 149.29 155.54 162.74 169.00 174.44 177.44 184.56 191.49 198.49 205.19 211.14">Межвидов.гибриды</tspan><tspan x="224.10" textLength="49.97" lengthAdjust="spacing">Кристалл</tspan></text>
<text y="339" font-size="11"><tspan x="378.00 386.68 393.86 403.44 409.24 415.29 421.54 428.74 435.00 440.44 443.44 450.56 457.49 464.49 471.19 477.14">Межвидов.гибриды</tspan><tspan x="489.20" textLength="43.12" lengthAdjust="spacing">Восторг</tspan></text>
<text y="363" font-size="11"><tspan x="112.00 120.68 127.86 137.44 143.24 149.29 155.54 162.74 169.00 174.44 177.44 184.56 191.49 198.49 205.19 211.14">Межвидов.гибриды</tspan><tspan x="224.10" textLength="38.10" lengthAdjust="spacing">Бианка</tspan></text>
<text y="363" font-size="11"><tspan x="378.00 386.68 393.86 403.44 409.24 415.29 421.54 428.74 435.00 440.44 443.44 450.56 457.49 464.49 471.19 477.14">Межвидов.гибриды</tspan><tspan x="490.30" textLength="31.10" lengthAdjust="spacing">Краса</tspan><tspan x="524.73" textLength="37.47" lengthAdjust="spacing">севера</tspan></text>
<text y="385" font-size="11"><tspan x="112.00 120.68 127.86 137.44 143.24 149.29 155.54 162.74 169.00 174.44 177.44 184.56 191.49 198.49 205.19 211.14">Межвидов.гибриды</tspan><tspan x="223.68" textLength="44.28" lengthAdjust="spacing">Августин</tspan></text>
<text y="385" font-size="11"><tspan x="379.04" textLength="95.42" lengthAdjust="spacing">Зап-европейская</tspan><tspan x="477.24" textLength="33.76" lengthAdjust="spacing">группа</tspan><tspan x="515.30" textLength="41.37" lengthAdjust="spacing">Мадлен</tspan><tspan x="561.08" textLength="46.68" lengthAdjust="spacing">Анжевин</tspan></text>
<text y="409" font-size="11"><tspan x="112.21" textLength="67.60" lengthAdjust="spacing">Побер.черн.</tspan><tspan x="182.44" textLength="28.63" lengthAdjust="spacing">моря</tspan><tspan x="214.24" textLength="26.32" lengthAdjust="spacing">Чауш</tspan><tspan x="245.36" textLength="35.21" lengthAdjust="spacing">белый</tspan></text>
<text y="409" font-size="11"><tspan x="378.20" textLength="72.91" lengthAdjust="spacing">Внутривидов.</tspan><tspan x="454.54" textLength="45.43" lengthAdjust="spacing">гибриды</tspan><tspan x="502.20" textLength="37.79" lengthAdjust="spacing">Мускат</tspan><tspan x="542.59" textLength="39.17" lengthAdjust="spacing">ранний</tspan></text>
<text transform="translate(23.2,151.7) rotate(-90) scale(1,1.22)" font-size="12" text-anchor="middle" textLength="194.5" lengthAdjust="spacing">Вода связанная/вода свободная</text>
</g></svg></body></html>
